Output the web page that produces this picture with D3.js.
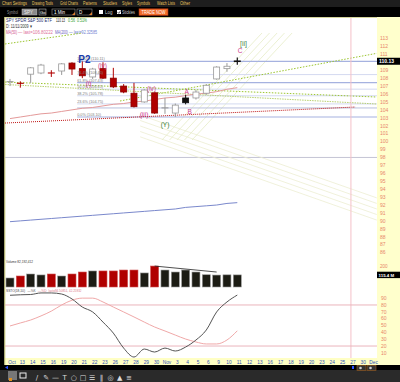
<!DOCTYPE html>
<html>
<head>
<meta charset="utf-8">
<script src="https://cdn.jsdelivr.net/npm/d3@7.9.0/dist/d3.min.js"></script>
<style>
  body { margin: 0; background: #000; }
  svg { display: block; font-family: "Liberation Sans", Arial, sans-serif; }
</style>
</head>
<body>
<svg id="chart" width="400" height="382"></svg>
<script>
// trading days on the axis, Oct 12 2009 -> Dec 1 2009
const days = ['Oct','13','14','15','16','19','20','21','22','23','26','27','28','29','30',
  'Nov','3','4','5','6','9','10','11','12','13','16','17','18','19','20','23','24','25','27','30','Dec'];

// daily candles Oct 12 -> Nov 11
const opens  = [107.5, 107.4, 108.5, 108.65, 108.75, 108.9, 109.9, 109.2, 108.15, 109.2, 108.0, 107.0, 106.1, 105.0, 106.15, 104.2, 103.6, 105.5, 105.5, 106.1, 107.9, 109.2, 110.15];
const highs  = [107.9, 107.6, 109.4, 109.8, 109.0, 109.9, 110.0, 110.11, 109.3, 110.0, 109.3, 107.25, 107.4, 106.6, 106.3, 105.5, 104.8, 105.9, 106.5, 107.2, 109.5, 109.9, 110.6];
const lows   = [107.0, 106.8, 107.4, 108.5, 108.15, 108.4, 108.4, 108.0, 107.9, 107.9, 106.75, 106.1, 104.3, 104.9, 103.5, 103.5, 103.1, 104.7, 105.3, 105.9, 107.8, 108.8, 109.7];
const closes = [107.55, 107.35, 109.3, 109.65, 108.65, 109.8, 109.15, 108.3, 109.15, 108.0, 106.9, 106.25, 104.4, 106.5, 103.6, 104.25, 104.6, 104.9, 106.25, 107.1, 109.4, 109.5, 110.13];

const ma50  = [102.9, 103.1, 103.3, 103.5, 103.6, 103.8, 104.0, 104.2, 104.3, 104.5, 104.7, 104.8, 105.0, 105.1, 105.3, 105.5, 105.6, 105.8, 106.0, 106.1, 106.3, 106.6, 106.8];
const ma200 = [89.9, 90.0, 90.1, 90.2, 90.3, 90.4, 90.5, 90.6, 90.7, 90.8, 90.9, 91.0, 91.1, 91.2, 91.3, 91.4, 91.5, 91.7, 91.8, 91.9, 92.0, 92.2, 92.3];

// volume, millions
const volumes = [86, 105, 124, 115, 124, 105, 124, 143, 153, 153, 153, 162, 162, 134, 200, 162, 143, 162, 143, 117, 114, 116, 115.4];

// slow stochastic
const stochK = [94.2, 94.9, 95.3, 97.6, 97.6, 96.0, 88.8, 77.0, 69.8, 55.0, 38.9, 17.0, 3.9, 15.6, 11.2, 17.0, 12.7, 18.5, 28.8, 43.4, 69.8, 84.4, 94.5];
const stochD = [49.3, 53.7, 58.0, 64.0, 71.0, 80.0, 87.0, 90.0, 90.0, 84.4, 77.0, 69.8, 62.5, 55.0, 47.8, 42.0, 36.0, 30.2, 25.9, 23.0, 23.0, 28.8, 42.26];

// fibonacci retracement
const fibPct   = ['100.0%', '76.4%', '61.8%', '50.0%', '38.2%', '23.6%', '0.0%'];
const fibPrice = [110.11, 108.45, 107.43, 106.61, 105.78, 104.75, 103.10];

// wave labels: text, day index, price
const waveText  = ['P2', '(iv)', '(i)', '(iv)', '(iii)', '(Y)', 'A', 'B', '[ii]', 'C'];
const waveIdx   = [7.2, 8.95, 7.6, 13.7, 12.97, 15.0, 17.1, 17.4, 22.6, 22.27];
const wavePrice = [109.91, 109.28, 107.0, 106.32, 103.16, 101.9, 106.06, 103.54, 112.05, 111.23];

// drawn trendlines [index, price]
const trendOlive = [[[-0.48, 112.31], [7.0, 113.69]], [[-0.48, 107.51], [35.5, 105.62]], [[10.65, 105.12], [35.5, 111.13]]];
const trendOlive2 = [[[-0.48, 107.2], [35.5, 104.74]]];
const trendRed = [[[-0.48, 102.34], [33.4, 104.36]]];
const fanUp = [[[14.71, 100.2], [24.39, 113.69]], [[15.44, 100.2], [25.12, 113.69]], [[16.16, 100.2], [25.85, 113.69]], [[16.89, 100.2], [26.57, 113.69]], [[17.62, 100.2], [27.3, 113.69]]];
const fanDown = [[[12.6, 103.35], [35.5, 92.9]], [[12.6, 102.66], [35.5, 92.2]], [[12.6, 101.97], [35.5, 91.5]], [[12.6, 101.27], [35.5, 90.8]], [[12.6, 100.6], [35.5, 90.1]]];
const supportLevel = 98.0;
const extraLevel = 104.24;
const volTrend = [[14, 200], [20, 143]];
const markerDay = 33;

const priceTicks = d3.range(86, 114);
const volTicks = [200];
const stochTicks = [90, 80, 70, 60, 50, 40, 30, 20, 10];
const stochLines = [80, 20];

const plotL = 5, plotR = 377;
const svg = d3.select('#chart');

const x = d3.scaleLinear().domain([0, 35]).range([10, 371.6]);
const y = d3.scaleLinear().domain([86, 113]).range([252.6, 38.5]);
const yV = d3.scaleLinear().domain([0, 210]).range([287, 265]);
const yS = d3.scaleLinear().domain([0, 100]).range([359.7, 291.3]);

// ---- frame
svg.append('rect').attr('width', 400).attr('height', 382).attr('fill', '#000');
svg.append('rect').attr('width', 400).attr('height', 7).attr('fill', '#1e1e1e');
svg.append('rect').attr('x', plotL).attr('y', 17).attr('width', plotR - plotL).attr('height', 341).attr('fill', '#fff');
svg.append('rect').attr('x', plotR).attr('y', 17).attr('width', 400 - plotR).attr('height', 348).attr('fill', '#ffffcc');
svg.append('rect').attr('x', plotL).attr('y', 358).attr('width', plotR - plotL).attr('height', 7).attr('fill', '#ffffc4');
svg.append('line').attr('x1', 4.8).attr('x2', 4.8).attr('y1', 17).attr('y2', 365).attr('stroke', '#d8d890').attr('stroke-width', 1.2);
svg.append('line').attr('x1', plotL).attr('x2', plotR).attr('y1', 17.5).attr('y2', 17.5).attr('stroke', '#d4d49c');
svg.append('rect').attr('y', 370).attr('width', 400).attr('height', 12).attr('fill', '#2a2a2a');

// ---- menu + toolbar
const menu = [['Chart Settings', 2, 25], ['Drawing Tools', 32, 21], ['Grid Charts', 60, 18], ['Patterns', 83, 14],
  ['Studies', 103, 14], ['Styles', 122, 10], ['Symbols', 137, 13], ['Watch Lists', 157, 18], ['Other', 180, 10]];
menu.forEach(([t, mx, w]) => {
  svg.append('text').attr('x', mx).attr('y', 5.3).attr('font-size', 5).attr('fill', '#e6c35c')
    .attr('textLength', w).attr('lengthAdjust', 'spacingAndGlyphs').text(t);
});
const small = (t, tx, ty, fill, size = 4.5, len = null) => {
  const el = svg.append('text').attr('x', tx).attr('y', ty).attr('font-size', size).attr('fill', fill).text(t);
  if (len) el.attr('textLength', len).attr('lengthAdjust', 'spacingAndGlyphs');
  return el;
};
small('Symbol', 7, 13.8, '#9a9a9a', 4.5, 11);
svg.append('rect').attr('x', 22).attr('y', 9).attr('width', 15).attr('height', 6).attr('fill', '#8a8a8a').attr('stroke', '#bbb').attr('stroke-width', 0.5);
small('SPY', 24, 13.8, '#eee');
svg.append('rect').attr('x', 39).attr('y', 9).attr('width', 7).attr('height', 6).attr('fill', '#111').attr('stroke', '#ccc').attr('stroke-width', 0.5);
small('Go', 40, 13.8, '#fff', 4.2);
[[52, 23, '1 Min'], [77, 15, 'D']].forEach(([bx, bw, t]) => {
  svg.append('rect').attr('x', bx).attr('y', 9).attr('width', bw).attr('height', 6).attr('fill', '#000').attr('stroke', '#aaa').attr('stroke-width', 0.5);
  svg.append('path').attr('d', `M${bx + bw - 3},15 L${bx + bw},15 L${bx + bw},12 Z`).attr('fill', '#e08030');
  small(t, bx + 2, 13.8, '#fff');
});
svg.append('rect').attr('x', 99).attr('y', 10).attr('width', 4).attr('height', 4).attr('fill', '#fff');
small('Log', 105, 13.8, '#ccc');
svg.append('rect').attr('x', 117).attr('y', 10).attr('width', 4).attr('height', 4).attr('fill', '#fff');
svg.append('path').attr('d', 'M117.6,12 L118.8,13.4 L120.6,10.6').attr('fill', 'none').attr('stroke', '#222').attr('stroke-width', 0.7);
small('Stickies', 122, 13.8, '#ccc', 4.5, 13);
svg.append('rect').attr('x', 139).attr('y', 8.8).attr('width', 29).attr('height', 6.6).attr('fill', '#f06a28').attr('stroke', '#a03010').attr('stroke-width', 0.6);
small('TRADE NOW', 141.5, 13.8, '#fff', 4.5, 24);

// ---- header texts
small('SPY SPDR S&P 500 ETF', 6, 22, '#1a2a6a', 4.8, 46);
small('110.13', 56, 22, '#222', 4.8, 9);
small('0.56', 68, 22, '#2a9a2a', 4.8, 7);
small('0.51%', 77, 22, '#2a9a2a', 4.8, 10);
small('D: 11/11/2009 \u25BE', 6, 28, '#333', 4.6, 26);
small('MA(50)', 6, 34, '#d0508a', 4.6, 11);
small('\u2014 last=106.80222', 18, 34, '#e0709a', 4.6, 35);
small('MA(200)', 55, 34, '#6a5cc0', 4.6, 13);
small('\u2014 last=92.32585', 69, 34, '#7080d0', 4.6, 28);

// ---- price panel
svg.append('clipPath').attr('id', 'pclip').append('rect')
  .attr('x', plotL).attr('y', 18).attr('width', plotR - plotL).attr('height', 240);
const pg = svg.append('g').attr('clip-path', 'url(#pclip)');
const seg = d3.line().x(d => x(d[0])).y(d => y(d[1]));

pg.append('line').attr('x1', plotL).attr('x2', plotR).attr('y1', y(supportLevel)).attr('y2', y(supportLevel))
  .attr('stroke', '#c4c4d4').attr('stroke-width', 1);

fanDown.forEach(l => pg.append('path').attr('d', seg(l)).attr('stroke', '#eceed2').attr('stroke-width', 0.8).attr('fill', 'none'));
fanUp.forEach(l => pg.append('path').attr('d', seg(l)).attr('stroke', '#e6ecc6').attr('stroke-width', 0.8).attr('fill', 'none'));

fibPrice.forEach((p, k) => {
  const strong = k === 0 || k === 2 || k === 6;
  pg.append('line').attr('x1', x(6.5)).attr('x2', plotR).attr('y1', y(p)).attr('y2', y(p))
    .attr('stroke', strong ? '#a6b2e0' : '#d4daf0').attr('stroke-width', strong ? 1.2 : 1);
});
pg.append('line').attr('x1', x(6.5)).attr('x2', plotR).attr('y1', y(extraLevel)).attr('y2', y(extraLevel))
  .attr('stroke', '#b8bfdc').attr('stroke-width', 1);

trendOlive.forEach(l => pg.append('path').attr('d', seg(l)).attr('stroke', '#9cc630').attr('stroke-width', 1)
  .attr('stroke-dasharray', '1.5,1.5').attr('fill', 'none'));
trendOlive2.forEach(l => pg.append('path').attr('d', seg(l)).attr('stroke', '#b8d070').attr('stroke-width', 1)
  .attr('stroke-dasharray', '1.5,1').attr('fill', 'none'));
trendRed.forEach(l => pg.append('path').attr('d', seg(l)).attr('stroke', '#c01818').attr('stroke-width', 1)
  .attr('stroke-dasharray', '1,1').attr('fill', 'none'));

const maLine = d3.line().x((d, i) => x(i)).y(d => y(d));
pg.append('path').attr('d', maLine(ma200)).attr('stroke', '#7a88cc').attr('stroke-width', 1).attr('fill', 'none');
pg.append('path').attr('d', maLine(ma50)).attr('stroke', '#e49a9a').attr('stroke-width', 1).attr('fill', 'none');

// candles
const candles = opens.map((o, i) => ({ i, o, h: highs[i], l: lows[i], c: closes[i] }));
const cw = 6;
candles.forEach(d => {
  const prev = d.i > 0 ? closes[d.i - 1] : d.c - 0.2;
  const up = d.c >= prev;
  const last = d.i === candles.length - 1;
  const doji = Math.abs(d.o - d.c) < 0.12;
  const hollow = d.c > d.o;
  let col = up ? '#999' : '#b00000';
  if (last || (!hollow && !doji && up)) col = '#111';
  const cx = x(d.i);
  pg.append('line').attr('x1', cx).attr('x2', cx).attr('y1', y(d.h)).attr('y2', y(d.l))
    .attr('stroke', col).attr('stroke-width', last ? 1.2 : 1);
  if (doji) {
    pg.append('line').attr('x1', cx - cw / 2 - 0.5).attr('x2', cx + cw / 2 + 0.5).attr('y1', y(d.c)).attr('y2', y(d.c))
      .attr('stroke', col).attr('stroke-width', last ? 1.6 : 1.1);
  } else {
    pg.append('rect').attr('x', cx - cw / 2).attr('y', y(Math.max(d.o, d.c)))
      .attr('width', cw).attr('height', Math.abs(y(d.o) - y(d.c)))
      .attr('fill', hollow ? '#fff' : col).attr('stroke', hollow ? '#999' : (up ? '#111' : '#8a0000')).attr('stroke-width', 0.8);
  }
});

// fib labels
fibPrice.forEach((p, k) => {
  pg.append('text').attr('x', x(6.5)).attr('y', y(p) - 1).attr('font-size', 3.8).attr('fill', '#808080')
    .text(`${fibPct[k]} (${p.toFixed(2)})`);
});

// wave labels
waveText.forEach((t, k) => {
  let fill = '#cc3c8c', size = 6.5, weight = 'normal';
  if (t === 'P2') { fill = '#1a3aa8'; size = 10; weight = 'bold'; }
  if (t === '(Y)') fill = '#2e7a2e';
  if (t === '[ii]') { fill = '#4a8a4a'; size = 7; }
  pg.append('text').attr('x', x(waveIdx[k])).attr('y', y(wavePrice[k])).attr('text-anchor', 'middle')
    .attr('font-size', size).attr('font-weight', weight).attr('fill', fill).text(t);
});

// date marker
svg.append('line').attr('x1', x(markerDay)).attr('x2', x(markerDay)).attr('y1', 18).attr('y2', 358)
  .attr('stroke', '#f4c0c8').attr('stroke-width', 1);

// ---- volume panel
small('Volume 82,192,412', 6, 263, '#333', 4.3, 27);
candles.forEach(d => {
  const up = d.i === 0 ? true : closes[d.i] >= closes[d.i - 1];
  svg.append('rect').attr('x', x(d.i) - 4).attr('y', yV(volumes[d.i])).attr('width', 8)
    .attr('height', yV(0) - yV(volumes[d.i]))
    .attr('fill', up ? '#1c1c14' : '#b00000').attr('stroke', up ? '#999' : '#d05050').attr('stroke-width', 0.6);
});
svg.append('path').attr('d', d3.line().x(d => x(d[0])).y(d => yV(d[1]))(volTrend))
  .attr('stroke', '#222').attr('stroke-width', 0.8).attr('fill', 'none');

// ---- stochastic panel
stochLines.forEach(v => svg.append('line').attr('x1', plotL).attr('x2', plotR).attr('y1', yS(v)).attr('y2', yS(v))
  .attr('stroke', '#eab4bc').attr('stroke-width', 1));
const sLine = d3.line().x((d, i) => x(i)).y(d => yS(d)).curve(d3.curveMonotoneX);
svg.append('path').attr('d', sLine(stochD)).attr('stroke', '#f0a8a8').attr('stroke-width', 1).attr('fill', 'none');
svg.append('path').attr('d', sLine(stochK)).attr('stroke', '#555').attr('stroke-width', 1).attr('fill', 'none');
small('SSTO(18,10)', 6, 291.5, '#444', 4.3, 19);
small('\u2014%K', 27.5, 291.5, '#555', 4.3, 8);
small('\u2014%D', 38, 291.5, '#e07888', 4.3, 8.5);
small('last=94.50851, 42.25932', 48.5, 291.5, '#e07888', 4.3, 33);

// ---- right axis
const axisCol = '#e8866a';
priceTicks.forEach(t => {
  if (Math.abs(t - closes[closes.length - 1]) < 0.6) return;
  svg.append('text').attr('x', 380).attr('y', y(t) + 1.8).attr('font-size', 5).attr('fill', axisCol).text(t);
});
const lastY = y(closes[closes.length - 1]);
svg.append('rect').attr('x', plotR).attr('y', lastY - 3.5).attr('width', 23).attr('height', 7).attr('fill', '#000');
svg.append('text').attr('x', 379).attr('y', lastY + 1.8).attr('font-size', 5).attr('font-weight', 'bold').attr('fill', '#fff')
  .text(closes[closes.length - 1].toFixed(2));

volTicks.forEach(t => svg.append('text').attr('x', 380).attr('y', yV(t) + 1.6).attr('font-size', 4.6).attr('fill', axisCol).text(t));
const lastV = yV(volumes[volumes.length - 1]);
svg.append('rect').attr('x', plotR).attr('y', lastV - 3.2).attr('width', 23).attr('height', 6.4).attr('fill', '#000');
svg.append('text').attr('x', 378.5).attr('y', lastV + 1.6).attr('font-size', 4.4).attr('font-weight', 'bold').attr('fill', '#fff')
  .text(`${volumes[volumes.length - 1].toFixed(1)} M`);

stochTicks.forEach(t => svg.append('text').attr('x', 381).attr('y', yS(t) + 1.8).attr('font-size', 5).attr('fill', axisCol).text(t));

// ---- x axis
days.forEach((dl, i) => {
  svg.append('text').attr('x', x(i) + 2).attr('y', 363.5).attr('text-anchor', 'middle')
    .attr('font-size', 4.8).attr('fill', '#3355bb').text(dl);
});

// ---- bottom bar
svg.append('path').attr('d', 'M5,367.5 L8,365.8 L8,369.2 Z').attr('fill', '#2a50ff');
svg.append('rect').attr('x', 352).attr('y', 366).attr('width', 2).attr('height', 3).attr('fill', '#2a50ff');
[357, 367].forEach(bx => {
  svg.append('rect').attr('x', bx).attr('y', 365.5).attr('width', 9).attr('height', 5).attr('fill', '#333').attr('stroke', '#a06020').attr('stroke-width', 0.6);
  svg.append('circle').attr('cx', bx + 3.5).attr('cy', 368).attr('r', 1.3).attr('fill', '#ccc');
});
svg.append('rect').attr('x', 8).attr('y', 371).attr('width', 9).attr('height', 9).attr('fill', '#777');
svg.append('rect').attr('x', 9).attr('y', 378).attr('width', 3).attr('height', 3).attr('fill', '#e09020');
svg.append('rect').attr('x', 20).attr('y', 373).attr('width', 6).attr('height', 5).attr('fill', 'none').attr('stroke', '#eee').attr('stroke-width', 1);
const tools = ['/', '\u270E', '\u2014', 'T', '\u25CB', '\u25A1', '\u2630', '\u2016', '\u25CE', '\u25B2', '\u2261'];
tools.forEach((t, k) => {
  svg.append('text').attr('x', 37 + k * 9.2).attr('y', 379.5).attr('text-anchor', 'middle')
    .attr('font-family', 'DejaVu Sans').attr('font-size', 7).attr('fill', '#ddd').text(t);
});
</script>
</body>
</html>
